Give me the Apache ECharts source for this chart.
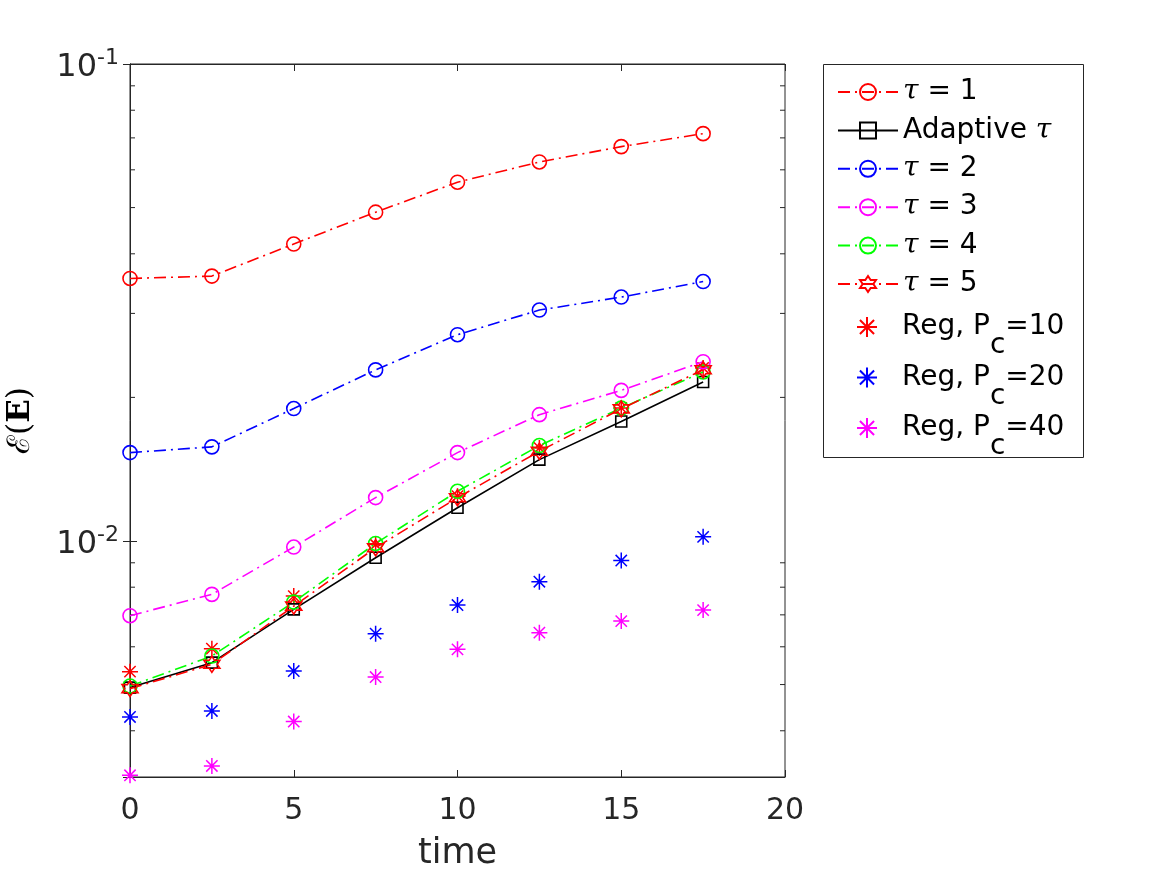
<!DOCTYPE html>
<html>
<head>
<meta charset="utf-8">
<script src="https://cdn.jsdelivr.net/npm/echarts@6/dist/echarts.min.js"></script>
<style>
  html, body { margin: 0; padding: 0; background: #fff; }
  #main { width: 1167px; height: 875px; }
</style>
</head>
<body>
<div id="main"></div>
<script>
var times = [0, 2.5, 5, 7.5, 10, 12.5, 15, 17.5];

var tau1 = [0.03551, 0.03592, 0.04193, 0.04891, 0.05652, 0.06232, 0.06711, 0.07145];
var adaptive = [0.004927, 0.005557, 0.007186, 0.009222, 0.01174, 0.01481, 0.01780, 0.02155];
var tau2 = [0.01532, 0.01575, 0.01895, 0.02284, 0.02707, 0.03049, 0.03246, 0.03499];
var tau3 = [0.006972, 0.007727, 0.00971, 0.01233, 0.01532, 0.01840, 0.02069, 0.02376];
var tau4 = [0.004965, 0.005738, 0.007445, 0.00988, 0.01271, 0.01585, 0.01899, 0.02261];
var tau5 = [0.004903, 0.005513, 0.00730, 0.00968, 0.01232, 0.01542, 0.01892, 0.02286];
var reg10 = [0.005322, 0.005946, 0.007663, 0.00983, 0.01241, 0.01567, 0.01901, 0.02305];
var reg20 = [0.004276, 0.004401, 0.005337, 0.006393, 0.007339, 0.008215, 0.00910, 0.01020];
var reg40 = [0.003227, 0.003375, 0.004182, 0.005185, 0.005927, 0.006424, 0.006793, 0.007162];

var minorTicks = [0.004, 0.005, 0.006, 0.007, 0.008, 0.009,
                  0.02, 0.03, 0.04, 0.05, 0.06, 0.07, 0.08, 0.09];

var yMin = 0.0032, yMax = 0.1;
var axisColor = '#262626';

function pairs(ys) {
    return times.map(function (t, i) { return [t, ys[i]]; });
}

// six pointed star outline
function hexagram() {
    var s = 'path://';
    for (var k = 0; k < 12; k++) {
        var r = k % 2 === 0 ? 10 : 5.77;
        var a = (-90 + k * 30) * Math.PI / 180;
        s += (k === 0 ? 'M' : 'L') + (r * Math.cos(a)).toFixed(2) + ',' + (r * Math.sin(a)).toFixed(2);
    }
    return s + 'Z';
}
var asterisk = 'path://M0,-10L0,10M-10,0L10,0M-7.07,-7.07L7.07,7.07M-7.07,7.07L7.07,-7.07';
var dashDot = [12, 5, 2, 5];

function lineSeries(name, ys, color, symbol, size, dashed) {
    return {
        name: name,
        type: 'line',
        data: pairs(ys),
        symbol: symbol,
        symbolSize: size,
        clip: false,
        lineStyle: { color: color, width: 1.6, type: dashed ? dashDot : 'solid' },
        itemStyle: { color: 'rgba(0,0,0,0)', borderColor: color, borderWidth: 1.6 },
        emphasis: { disabled: true }
    };
}
function starSeries(name, ys, color) {
    return {
        name: name,
        type: 'scatter',
        data: pairs(ys),
        symbol: asterisk,
        symbolSize: 16,
        clip: false,
        itemStyle: { color: 'rgba(0,0,0,0)', borderColor: color, borderWidth: 1.5, opacity: 1 },
        emphasis: { disabled: true }
    };
}

var myChart = echarts.init(document.getElementById('main'));

var legendRich = {
    t: { fontFamily: 'DejaVu Serif', fontStyle: 'italic', fontSize: 28, color: '#000', lineHeight: 30 },
    n: { fontFamily: 'DejaVu Sans', fontSize: 28, color: '#000', lineHeight: 30 },
    sub: { fontFamily: 'DejaVu Sans', fontSize: 28, color: '#000', lineHeight: 30, padding: [38, 0, 0, 0] }
};

var legendNames = {
    'tau1': '{t|τ}{n| = 1}',
    'adaptive': '{n|Adaptive }{t|τ}',
    'tau2': '{t|τ}{n| = 2}',
    'tau3': '{t|τ}{n| = 3}',
    'tau4': '{t|τ}{n| = 4}',
    'tau5': '{t|τ}{n| = 5}',
    'reg10': '{n|Reg, P}{sub|c}{n|=10}',
    'reg20': '{n|Reg, P}{sub|c}{n|=20}',
    'reg40': '{n|Reg, P}{sub|c}{n|=40}'
};

var option = {
    backgroundColor: '#fff',
    animation: false,
    textStyle: { fontFamily: 'DejaVu Sans' },
    grid: {
        left: 130, top: 64, width: 655, height: 713,
        outerBoundsMode: 'none',
        containLabel: false,
        show: true, borderColor: axisColor, borderWidth: 1, backgroundColor: '#fff'
    },
    graphic: [{
        type: 'rect',
        left: 823, top: 64,
        shape: { width: 260, height: 393 },
        style: { fill: '#fff', stroke: axisColor, lineWidth: 1 },
        z: 0
    }],
    legend: [{
        data: ['tau1', 'adaptive', 'tau2', 'tau3', 'tau4', 'tau5'],
        orient: 'vertical',
        left: 832, top: 73,
        itemWidth: 60, itemHeight: 20, itemGap: 10.4,
        formatter: function (n) { return legendNames[n]; },
        textStyle: { rich: legendRich },
        selectedMode: false,
        z: 5
    }, {
        data: ['reg10', 'reg20', 'reg40'],
        orient: 'vertical',
        left: 851, top: 289,
        itemWidth: 60, itemHeight: 20, itemGap: -15.5,
        formatter: function (n) { return legendNames[n]; },
        textStyle: { rich: legendRich },
        selectedMode: false,
        z: 5
    }],
    xAxis: [{
        type: 'value', min: 0, max: 20, interval: 5,
        position: 'bottom',
        name: 'time', nameLocation: 'middle', nameGap: 59,
        nameTextStyle: { fontSize: 35, color: axisColor, fontFamily: 'DejaVu Sans' },
        axisLine: { show: true, lineStyle: { color: axisColor } },
        axisTick: { show: true, inside: true, length: 7, lineStyle: { color: axisColor } },
        axisLabel: { fontSize: 30, color: axisColor, margin: 19, fontFamily: 'DejaVu Sans' },
        splitLine: { show: false }
    }, {
        type: 'value', min: 0, max: 20, interval: 5,
        position: 'top',
        axisLine: { show: true, lineStyle: { color: axisColor } },
        axisTick: { show: true, inside: true, length: 7, lineStyle: { color: axisColor } },
        axisLabel: { show: false },
        splitLine: { show: false }
    }],
    yAxis: [{
        type: 'log', logBase: 10, min: yMin, max: yMax,
        position: 'left',
        name: '{s|ℰ}{p|(}{e|E}{p|)}', nameLocation: 'middle', nameGap: 94,
        nameTextStyle: {
            color: '#000',
            rich: {
                s: { fontFamily: 'DejaVu Serif', fontSize: 31, color: '#000' },
                p: { fontFamily: 'DejaVu Serif', fontSize: 31, color: '#000' },
                e: { fontFamily: 'DejaVu Serif', fontWeight: 'bold', fontSize: 31, color: '#000' }
            }
        },
        axisLine: { show: true, lineStyle: { color: axisColor } },
        axisTick: { show: true, inside: true, length: 7, lineStyle: { color: axisColor } },
        axisLabel: {
            margin: 11,
            formatter: function (v) {
                var e = Math.log10(v), r = Math.round(e);
                if (Math.abs(e - r) > 1e-6) return '';
                return '{b|10}{e|' + r + '}';
            },
            rich: {
                b: { fontSize: 32, color: axisColor, fontFamily: 'DejaVu Sans', lineHeight: 38, padding: [8, 0, 0, 0] },
                e: { fontSize: 22, color: axisColor, fontFamily: 'DejaVu Sans', lineHeight: 26, padding: [0, 0, 12, 0] }
            }
        },
        splitLine: { show: false },
        minorTick: { show: false }
    }, {
        type: 'log', logBase: 10, min: yMin, max: yMax,
        position: 'right',
        axisLine: { show: true, lineStyle: { color: axisColor } },
        axisTick: { show: true, inside: true, length: 7, lineStyle: { color: axisColor } },
        axisLabel: { show: false },
        splitLine: { show: false }
    }],
    series: [
        lineSeries('tau1', tau1, '#ff0000', 'circle', 14, true),
        lineSeries('adaptive', adaptive, '#000000', 'rect', 11, false),
        lineSeries('tau2', tau2, '#0000ff', 'circle', 14, true),
        lineSeries('tau3', tau3, '#ff00ff', 'circle', 14, true),
        lineSeries('tau4', tau4, '#00ff00', 'circle', 14, true),
        lineSeries('tau5', tau5, '#ff0000', hexagram(), 16, true),
        starSeries('reg10', reg10, '#ff0000'),
        starSeries('reg20', reg20, '#0000ff'),
        starSeries('reg40', reg40, '#ff00ff'),
        {
            // minor ticks of the log axis, on both sides of the box
            type: 'custom',
            silent: true,
            data: minorTicks.map(function (v) { return [0, v]; }),
            renderItem: function (params, api) {
                var v = api.value(1);
                var a = api.coord([0, v]);
                var b = api.coord([20, v]);
                var st = { stroke: axisColor, lineWidth: 1 };
                return {
                    type: 'group',
                    children: [
                        { type: 'line', shape: { x1: a[0], y1: a[1], x2: a[0] + 5, y2: a[1] }, style: st },
                        { type: 'line', shape: { x1: b[0] - 5, y1: b[1], x2: b[0], y2: b[1] }, style: st }
                    ]
                };
            }
        }
    ]
};

myChart.setOption(option);
</script>
</body>
</html>
